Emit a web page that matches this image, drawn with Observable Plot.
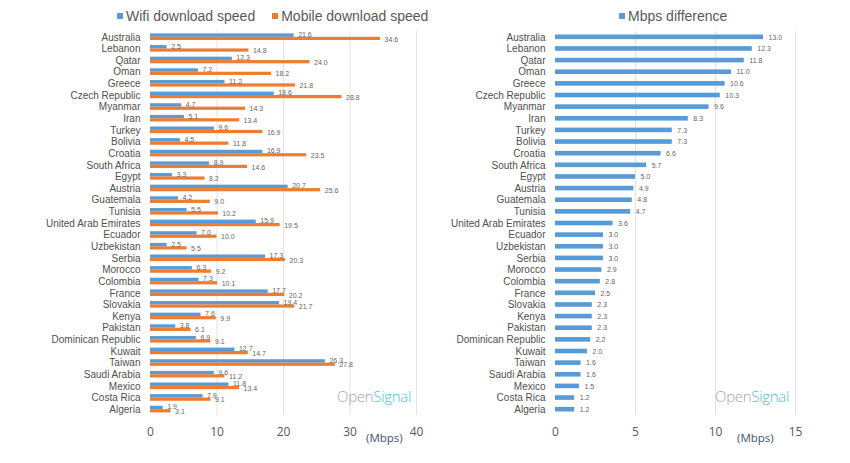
<!DOCTYPE html>
<html>
<head>
<meta charset="utf-8">
<script src="https://cdn.jsdelivr.net/npm/d3@7"></script>
<script src="https://cdn.jsdelivr.net/npm/@observablehq/plot@0.6"></script>
<style>
  body { margin: 0; background: #fff; font-family: "Liberation Sans", Arial, sans-serif; }
  #wrap { position: relative; width: 850px; height: 463px; overflow: hidden; }
  .pane { position: absolute; top: 0; }
  .legend { position: absolute; top: 8px; font-size: 14px; color: #595959; white-space: nowrap; }
  .legend .sw { display: inline-block; width: 6px; height: 6px; margin-right: 3px; vertical-align: 2px; }
  .unit { position: absolute; top: 430px; font-family: "Open Sans", sans-serif; font-size: 11.5px; color: #44546A; }
  .brand { position: absolute; top: 386px; font-family: "Open Sans", sans-serif; font-size: 15px; font-weight: 300; letter-spacing: -0.3px; }
  .brand .o { color: #a6a6a6; }
  .brand .s { color: #55b9d3; }
</style>
</head>
<body>
<div id="wrap">
  <div class="pane" id="left" style="left:0"></div>
  <div class="pane" id="right" style="left:425px"></div>
  <div class="legend" style="left:117px"><span class="sw" style="background:#5B9BD5"></span>Wifi download speed<span style="display:inline-block;width:17px"></span><span class="sw" style="background:#ED7D31"></span>Mobile download speed</div>
  <div class="legend" style="left:619px"><span class="sw" style="background:#5B9BD5"></span>Mbps difference</div>
  <div class="unit" style="left:366px">(Mbps)</div>
  <div class="unit" style="left:737px">(Mbps)</div>
  <div class="brand" style="left:337px"><span class="o">Open</span><span class="s">Signal</span></div>
  <div class="brand" style="left:715px"><span class="o">Open</span><span class="s">Signal</span></div>
</div>
<script>
const countries = ["Australia","Lebanon","Qatar","Oman","Greece","Czech Republic","Myanmar","Iran","Turkey","Bolivia","Croatia","South Africa","Egypt","Austria","Guatemala","Tunisia","United Arab Emirates","Ecuador","Uzbekistan","Serbia","Morocco","Colombia","France","Slovakia","Kenya","Pakistan","Dominican Republic","Kuwait","Taiwan","Saudi Arabia","Mexico","Costa Rica","Algeria"];
const wifi = [21.6,2.5,12.3,7.2,11.2,18.6,4.7,5.1,9.6,4.5,16.9,8.9,3.3,20.7,4.2,5.5,15.9,7.0,2.5,17.3,6.3,7.3,17.7,19.4,7.6,3.8,6.9,12.7,26.3,9.6,11.8,7.9,1.9];
const mobile = [34.6,14.8,24.0,18.2,21.8,28.8,14.3,13.4,16.9,11.8,23.5,14.6,8.2,25.6,9.0,10.2,19.5,10.0,5.5,20.3,9.2,10.1,20.2,21.7,9.9,6.1,9.1,14.7,27.8,11.2,13.4,9.1,3.1];
const diff = [13.0,12.3,11.8,11.0,10.6,10.3,9.6,8.3,7.3,7.3,6.6,5.7,5.0,4.9,4.8,4.7,3.6,3.0,3.0,3.0,2.9,2.8,2.5,2.3,2.3,2.3,2.2,2.0,1.6,1.6,1.5,1.2,1.2];
const leftTicks = [0,10,20,30,40];
const rightTicks = [0,5,10,15];

const rows = countries.map((c, i) => ({country: c, wifi: wifi[i], mobile: mobile[i], diff: diff[i]}));
const BLUE = "#5B9BD5", ORANGE = "#ED7D31";

const common = {
  height: 463,
  marginTop: 31,
  marginBottom: 48,
  style: {fontFamily: "Liberation Sans, Arial, sans-serif", background: "white", overflow: "visible"}
};

const left = Plot.plot({
  ...common,
  width: 425,
  marginLeft: 150,
  marginRight: 9,
  x: {domain: [0, 40], ticks: leftTicks, label: null},
  y: {domain: countries, padding: 0, round: false, label: null},
  marks: [
    Plot.ruleX(leftTicks.slice(1), {stroke: "#e3e3e3", strokeWidth: 1}),
    Plot.barX(rows, {x: "wifi", y: "country", fill: BLUE, insetTop: 2.4, insetBottom: 5.8}),
    Plot.barX(rows, {x: "mobile", y: "country", fill: ORANGE, insetTop: 5.8, insetBottom: 2.6}),
    Plot.text(rows, {x: "wifi", y: "country", text: d => d.wifi.toFixed(1), dx: 4, dy: -2.5, textAnchor: "start", fontSize: 7, fill: "#666"}),
    Plot.text(rows, {x: "mobile", y: "country", text: d => d.mobile.toFixed(1), dx: 4, dy: 2, textAnchor: "start", fontSize: 7, fill: "#666"}),
    Plot.axisY({tickSize: 0, tickPadding: 10, fontSize: 10, color: "#505050", label: null}),
    Plot.axisX({ticks: leftTicks, tickSize: 0, tickPadding: 12, fontSize: 12, color: "#595959", label: null, fontFamily: "Open Sans, sans-serif"})
  ]
});

const right = Plot.plot({
  ...common,
  width: 425,
  marginLeft: 130,
  marginRight: 55,
  x: {domain: [0, 15], ticks: rightTicks, label: null},
  y: {domain: countries, padding: 0, round: false, label: null},
  marks: [
    Plot.ruleX(rightTicks.slice(1), {stroke: "#e3e3e3", strokeWidth: 1}),
    Plot.barX(rows, {x: "diff", y: "country", fill: BLUE, insetTop: 3.5, insetBottom: 3.5}),
    Plot.text(rows, {x: "diff", y: "country", text: d => d.diff.toFixed(1), dx: 5, textAnchor: "start", fontSize: 7, fill: "#666"}),
    Plot.axisY({tickSize: 0, tickPadding: 10, fontSize: 10, color: "#505050", label: null}),
    Plot.axisX({ticks: rightTicks, tickSize: 0, tickPadding: 12, fontSize: 12, color: "#595959", label: null, fontFamily: "Open Sans, sans-serif"})
  ]
});

document.getElementById("left").appendChild(left);
document.getElementById("right").appendChild(right);
</script>
</body>
</html>
